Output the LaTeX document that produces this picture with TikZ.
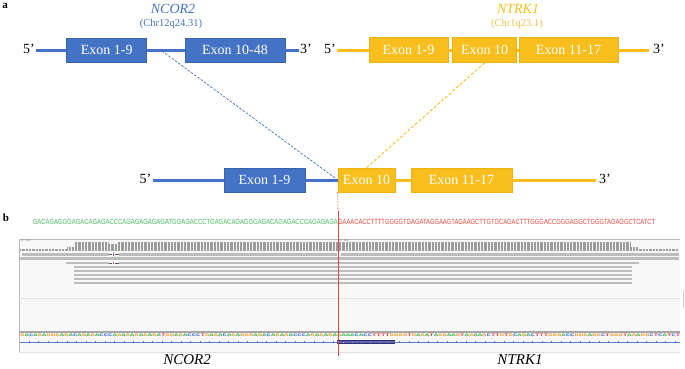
\documentclass[tikz,border=0pt]{standalone}
\usepackage{fontspec}
\usepackage{graphicx}
\setmainfont{Liberation Serif}
\newfontfamily\seqsans{Liberation Sans}
\newfontfamily\seqmono{Liberation Mono}
\definecolor{ncblue}{HTML}{4472C4}
\definecolor{ncedge}{HTML}{3A62AC}
\definecolor{ntgold}{HTML}{F7BE1E}
\definecolor{ntedge}{HTML}{EDB20F}
\definecolor{ntlight}{HTML}{F4C24A}
\definecolor{seqgreen}{HTML}{45B95A}
\definecolor{seqred}{HTML}{E8453C}
\definecolor{covgray}{HTML}{9C9C9C}
\definecolor{readgray}{HTML}{BDBDBD}
\definecolor{panelbg}{HTML}{F8F8F8}
\definecolor{baseA}{HTML}{2DB34A}
\definecolor{baseC}{HTML}{3E6BD6}
\definecolor{baseG}{HTML}{E89A2C}
\definecolor{baseT}{HTML}{E83A3A}
\definecolor{navy}{HTML}{2E2E80}
\def\colseq#1{\ifx#1\relax\else\textcolor{base#1}{#1}\expandafter\colseq\fi}
\tikzset{
  exonB/.style={rectangle, fill=ncblue, draw=ncedge, line width=0.5pt, inner sep=0pt,
    minimum height=24pt, text=white, font=\fontsize{14}{14}\selectfont},
  exonO/.style={rectangle, fill=ntgold, draw=ntedge, line width=0.5pt, inner sep=0pt,
    minimum height=25pt, text=white, font=\fontsize{14}{14}\selectfont},
  endlbl/.style={inner sep=1pt, font=\fontsize{14}{14}\selectfont},
  blline/.style={ncblue, line width=3pt},
  goline/.style={ntgold, line width=3pt},
  cov/.style={fill=covgray},
  rd/.style={fill=readgray},
}
\begin{document}
\begin{tikzpicture}[x=1pt,y=-1pt]
\useasboundingbox (0,0) rectangle (685,368);
\fill[white] (0,0) rectangle (685,368);

% ---------- panel a ----------
\node[font=\bfseries\fontsize{11}{11}\selectfont, inner sep=0pt] (la) at (5,6) {a};

\node[text=ncblue, font=\itshape\fontsize{14}{14}\selectfont, inner sep=0pt] (ncname) at (173,9) {NCOR2};
\node[text=ncblue, font=\fontsize{10.5}{10.5}\selectfont, inner sep=0pt] (ncchr) at (171,24) {(Chr12q24.31)};
\node[text=ntgold, font=\itshape\fontsize{14}{14}\selectfont, inner sep=0pt] (ntname) at (518,9) {NTRK1};
\node[text=ntlight, font=\fontsize{10.5}{10.5}\selectfont, inner sep=0pt] (ntchr) at (517,24) {(Chr1q23.1)};

% NCOR2 gene
\node[endlbl] (a5) at (29,49) {5’};
\node[endlbl] (a3) at (306,49) {3’};
\node[exonB, minimum width=80pt] (n1) at (106.7,50) {Exon 1-9};
\node[exonB, minimum width=100pt] (n2) at (235,50) {Exon 10-48};
\draw[blline] (a5.east |- n1.west) -- (n1.west);
\draw[blline] (n1.east) -- (n2.west);
\draw[blline] (n2.east) -- (a3.west |- n2.east);
\coordinate (jb) at (162,51);

% NTRK1 gene
\node[endlbl] (b5) at (330,49) {5’};
\node[endlbl] (b3) at (659,49) {3’};
\node[exonO, minimum width=79pt] (t1) at (408.5,50) {Exon 1-9};
\node[exonO, minimum width=64pt] (t2) at (484.7,50) {Exon 10};
\node[exonO, minimum width=99pt] (t3) at (568.5,50) {Exon 11-17};
\draw[goline] (b5.east |- t1.west) -- (t1.west);
\draw[goline] (t1.east) -- (t2.west);
\draw[goline] (t2.east) -- (t3.west);
\draw[goline] (t3.east) -- ([xshift=-3pt]b3.west |- t3.east);

% fusion gene
\node[endlbl] (c5) at (145.5,179) {5’};
\node[endlbl] (c3) at (605,179) {3’};
\node[exonB, minimum width=81pt] (f1) at (264.5,180) {Exon 1-9};
\node[exonO, minimum width=57pt, minimum height=24pt] (f2) at (366.5,180) {Exon 10};
\node[exonO, minimum width=101pt, minimum height=24pt] (f3) at (461.5,180) {Exon 11-17};
\draw[blline] (c5.east |- f1.west) -- (f1.west);
\draw[blline] (f1.east) -- (f2.west);
\draw[goline] (f2.east) -- (f3.west);
\draw[goline] (f3.east) -- ([xshift=-2pt]c3.west |- f3.east);

% mapping dashed lines
\draw[ncblue, line width=0.7pt, dash pattern=on 2.5pt off 1.5pt] (jb) -- (f2.west);
\draw[ntgold, line width=0.9pt, dash pattern=on 3pt off 2pt] (t2.south) -- (f2.north);

% ---------- panel b ----------
\node[font=\bfseries\fontsize{11}{11}\selectfont, inner sep=0pt] (lb) at (6,218) {b};

\node[anchor=east, inner sep=0pt, text=seqgreen] (sqg) at (338,222)
  {\resizebox{305pt}{5.2pt}{\seqsans GACAGAGGGAGACAGAGACCCAGAGAGAGAGATGGAGACCCTGAGACAGAGGGAGACAGAGACCCAGAGAGA}};
\node[anchor=west, inner sep=0pt, text=seqred] (sqr) at (338,222)
  {\resizebox{317pt}{5.2pt}{\seqsans GAAACACCTTTTGGGGTGAGATAGGAAGTAGAAGCTTGTGCAGACTTTGGGACCGGGAGGCTGGGTAGAGGCTCATCT}};

% IGV panel
\fill[panelbg] (19,239) rectangle (680,352);
\draw[gray!55, line width=0.6pt] (19,352) -- (19,239) -- (680,239);
\draw[gray!25, line width=0.5pt] (19,352) -- (680,352);
\draw[gray!20, line width=0.5pt] (19,298) -- (680,298);
\node[anchor=west, inner sep=0pt, text=gray, font=\seqsans\fontsize{2.5}{2.5}\selectfont] (r1) at (21,241) {[0 - 146]};
\node[anchor=west, inner sep=0pt, text=gray, font=\seqsans\fontsize{2.5}{2.5}\selectfont] (r2) at (339,241) {[0 - 146]};

% coverage track
\fill[cov] (20,249) rectangle (67,251);
\fill[cov] (67,247.3) rectangle (75,251);
\fill[cov] (75,242.3) rectangle (109,251);
\fill[cov] (109,244.3) rectangle (118,251);
\fill[cov] (118,242.3) rectangle (631,251);
\fill[cov] (631,247) rectangle (639,251);
\fill[cov] (639,249) rectangle (679,251);
\foreach \x in {21.5,24.8,...,679} \draw[panelbg, line width=0.3pt] (\x,241.5) -- (\x,251.5);

% reads
\fill[rd] (22,253.3) rectangle (337,255.9);
\fill[rd] (341,253.3) rectangle (679,255.9);
\fill[rd] (20,257.3) rectangle (679,260);
\fill[rd] (66,261.7) rectangle (639,264.4);
\foreach \ya/\yb in {265.9/268.4, 269.9/272.4, 273.9/276.4, 277.9/280.4, 281.6/283.9}
  \fill[rd] (74,\ya) rectangle (632,\yb);
% insertion marks
\foreach \yc in {254.6, 263} {
  \fill[panelbg] (108.5,\yc-1.3) rectangle (119,\yc+1.3);
  \draw[gray!70!black, line width=0.6pt] (109,\yc) -- (112.3,\yc) (114.7,\yc) -- (118.5,\yc);
  \draw[violet!70, line width=0.7pt] (113.5,\yc-1.2) -- (113.5,\yc+1.2);
}

% sequence track
\draw[gray!70, line width=1.6pt] (19,332) -- (680,332);
\node[anchor=west, inner sep=0pt] (bases) at (20,335.6)
  {\resizebox{660pt}{2.6pt}{\seqmono\bfseries\colseq GACAGAGGGAGACAGAGACCCAGAGAGAGAGATGGAGACCCTGAGACAGAGGGAGACAGAGACCCAGAGAGAGAAACACCTTTTGGGGTGAGATAGGAAGTAGAAGCTTGTGCAGACTTTGGGACCGGGAGGCTGGGTAGAGGCTCATCT\relax}};
\draw[ncblue!90!white, line width=0.6pt] (20,342) -- (680,342);
\foreach \x in {29,38.5,...,676} \draw[ncblue, line width=0.5pt] (\x,341.2) -- (\x,342.8);
\fill[navy] (337,339.8) rectangle (395,344.4);
\fill[navy!75!white] (337,341.3) rectangle (395,342.8);
\foreach \x in {343,352,361,370,379,388} \fill[navy!45!white] (\x,341.5) rectangle (\x+1.2,342.6);
\draw[gray!40, line width=0.8pt] (683,290) -- (683,307);

% junction line
\draw[seqred, line width=0.6pt, dash pattern=on 1.5pt off 1.5pt] (f2.south west) -- (338,211);
\draw[seqred, line width=0.6pt] (338,211) -- (338,356);

\node[font=\itshape\fontsize{15}{15}\selectfont, inner sep=0pt] (gl1) at (187,360) {NCOR2};
\node[font=\itshape\fontsize{15}{15}\selectfont, inner sep=0pt] (gl2) at (520,360) {NTRK1};
\end{tikzpicture}
\end{document}
